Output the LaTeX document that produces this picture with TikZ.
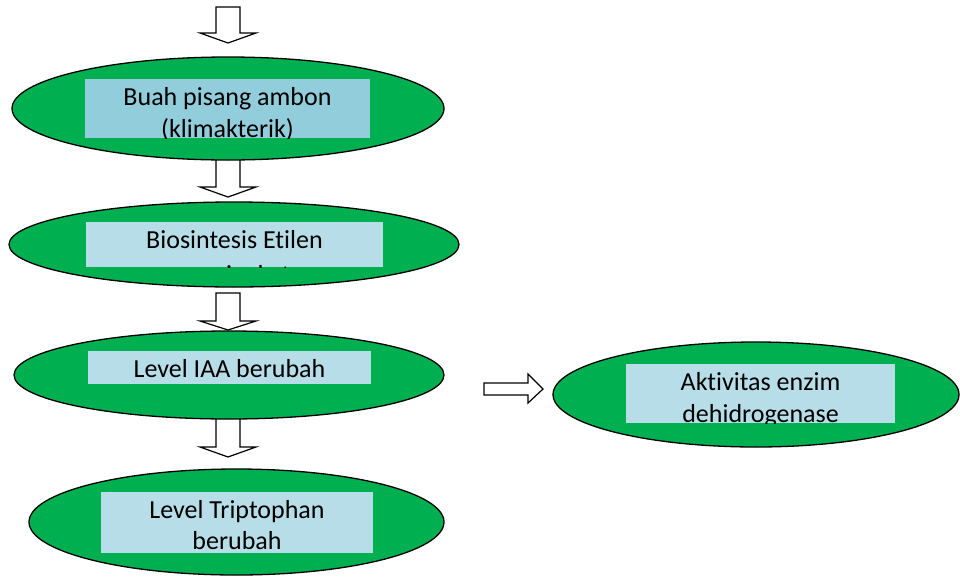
\documentclass[tikz,border=0pt]{standalone}
\usepackage{fontspec}
\setmainfont{Carlito}[RawFeature={-liga;-dlig;-clig}]
\usetikzlibrary{shapes.geometric}
\definecolor{fillgreen}{HTML}{00B050}
\definecolor{boxblueA}{HTML}{92CDDC}
\definecolor{boxblueB}{HTML}{B7DEE8}
\begin{document}
\begin{tikzpicture}[x=1pt,y=-1pt,
  oval/.style={ellipse, draw=black, line width=1.3pt, fill=fillgreen, inner sep=0pt},
  labelbox/.style={rectangle, inner sep=0pt, draw=none},
  lbl/.style={anchor=base, inner sep=0pt, font=\fontsize{26}{32}\selectfont},
  blockarrow/.style={draw=black, line width=1.2pt, fill=white, line join=miter}]
\useasboundingbox (0,0) rectangle (960,576);
% block arrows
\draw[blockarrow] (216,7) -- (240,7) -- (240,33) -- (256,33) -- (228,43) -- (200,33) -- (216,33) -- cycle;
\draw[blockarrow] (216,150) -- (240,150) -- (240,187) -- (256,187) -- (228,197) -- (200,187) -- (216,187) -- cycle;
\draw[blockarrow] (216,293) -- (240,293) -- (240,321) -- (256,321) -- (228,330) -- (200,321) -- (216,321) -- cycle;
\draw[blockarrow] (216,410) -- (240,410) -- (240,447) -- (256,447) -- (228,457) -- (200,447) -- (216,447) -- cycle;
\draw[blockarrow] (484,383) -- (528,383) -- (528,374) -- (543,389) -- (528,403) -- (528,395) -- (484,395) -- cycle;
% ellipses
\node[oval, minimum width=432pt, minimum height=103pt] (e1) at (228,108.5) {};
\node[oval, minimum width=450pt, minimum height=85pt] (e2) at (234,244.5) {};
\node[oval, minimum width=430pt, minimum height=88pt] (e3) at (229,375) {};
\node[oval, minimum width=415pt, minimum height=106pt] (e4) at (236.5,522) {};
\node[oval, minimum width=406pt, minimum height=105pt] (e5) at (756,394.5) {};
% label boxes
\node[labelbox, fill=boxblueA, minimum width=285pt, minimum height=59pt] (r1) at (227.5,108.5) {};
\node[labelbox, fill=boxblueB, minimum width=297pt, minimum height=45pt] (r2) at (234.5,244.5) {};
\node[labelbox, fill=boxblueB, minimum width=283pt, minimum height=33pt] (r3) at (229.5,367.5) {};
\node[labelbox, fill=boxblueB, minimum width=272pt, minimum height=61pt] (r4) at (237,522.5) {};
\node[labelbox, fill=boxblueB, minimum width=269pt, minimum height=59pt] (r5) at (760.5,393.5) {};
% texts, clipped to their boxes
\begin{scope}
\clip (r1.south west) rectangle (r1.north east);
\node[lbl] (t1a) at (227.5,105) {Buah pisang ambon};
\node[lbl] (t1b) at (227.5,137) {(klimakterik)};
\end{scope}
\begin{scope}
\clip (r2.south west) rectangle (r2.north east);
\node[lbl] (t2a) at (234.5,248) {Biosintesis Etilen};
\node[lbl] (t2b) at (234.5,283) {meningkat};
\end{scope}
\begin{scope}
\clip (r3.south west) rectangle (r3.north east);
\node[lbl] (t3a) at (229.5,377) {Level IAA berubah};
\end{scope}
\begin{scope}
\clip (r4.south west) rectangle (r4.north east);
\node[lbl] (t4a) at (237,518) {Level Triptophan};
\node[lbl] (t4b) at (237,549) {berubah};
\end{scope}
\begin{scope}
\clip (r5.south west) rectangle (r5.north east);
\node[lbl] (t5a) at (760.5,390) {Aktivitas enzim};
\node[lbl] (t5b) at (760.5,422) {dehidrogenase};
\end{scope}
\end{tikzpicture}
\end{document}
